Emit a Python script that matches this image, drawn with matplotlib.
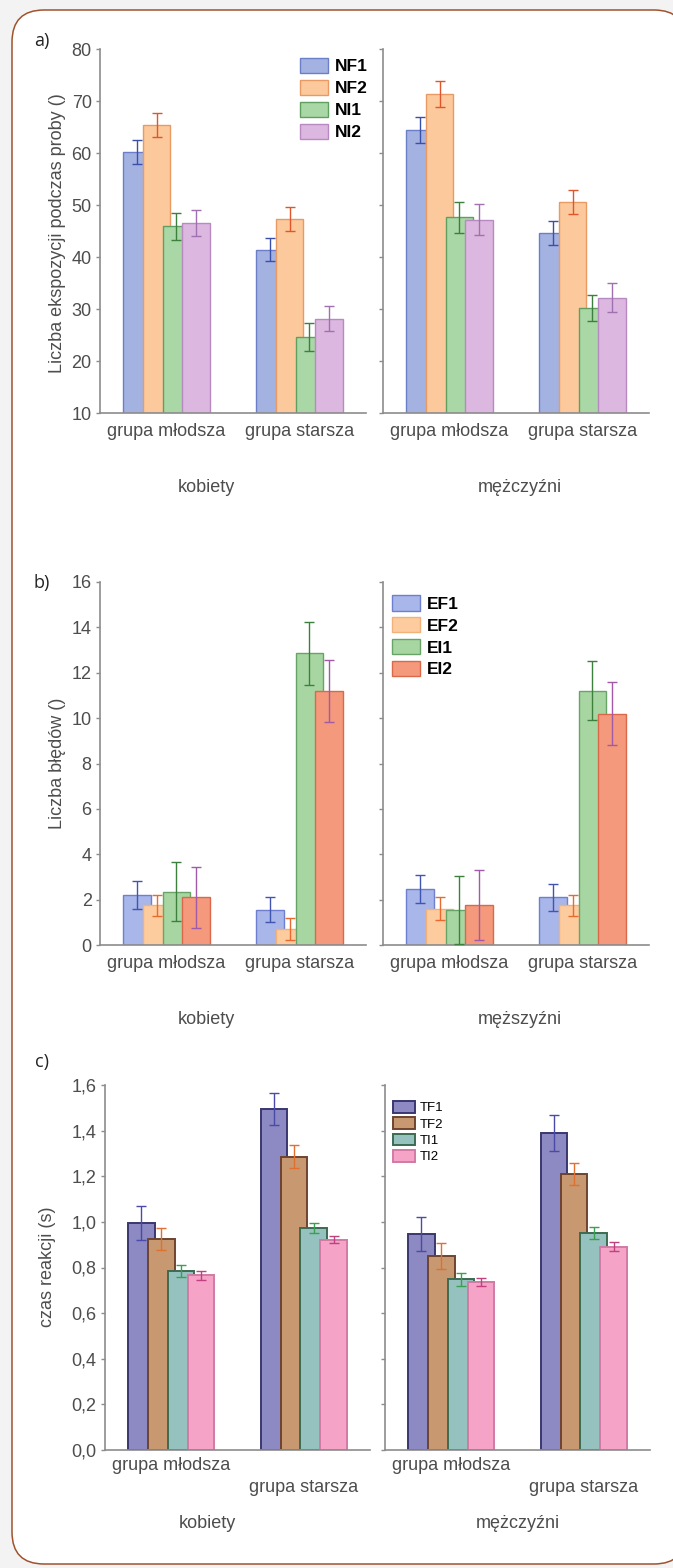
import matplotlib
matplotlib.use("Agg")
import matplotlib.pyplot as plt
from matplotlib.patches import FancyBboxPatch
from matplotlib.ticker import FuncFormatter

plt.rcParams['font.family'] = ['Liberation Sans', 'DejaVu Sans']

W, H = 673, 1568

groups = ['grupa młodsza', 'grupa starsza']

# panel a - liczba ekspozycji, values per series: [mlodsza, starsza]
a_series = ['NF1', 'NF2', 'NI1', 'NI2']
a_women_mean = [[60.2, 41.4], [65.4, 47.3], [45.9, 24.6], [46.5, 28.1]]
a_women_err = [[2.3, 2.2], [2.3, 2.3], [2.6, 2.7], [2.5, 2.4]]
a_men_mean = [[64.4, 44.6], [71.3, 50.6], [47.6, 30.2], [47.2, 32.2]]
a_men_err = [[2.5, 2.3], [2.5, 2.3], [3.0, 2.5], [3.0, 2.8]]

# panel b - liczba bledow
b_series = ['EF1', 'EF2', 'EI1', 'EI2']
b_women_mean = [[2.2, 1.55], [1.75, 0.7], [2.35, 12.85], [2.1, 11.2]]
b_women_err = [[0.6, 0.55], [0.45, 0.5], [1.3, 1.4], [1.35, 1.35]]
b_men_mean = [[2.45, 2.1], [1.6, 1.75], [1.55, 11.2], [1.75, 10.2]]
b_men_err = [[0.62, 0.6], [0.52, 0.45], [1.5, 1.3], [1.55, 1.4]]

# panel c - czas reakcji
c_series = ['TF1', 'TF2', 'TI1', 'TI2']
c_women_mean = [[0.995, 1.495], [0.925, 1.285], [0.785, 0.973], [0.765, 0.921]]
c_women_err = [[0.075, 0.07], [0.05, 0.05], [0.025, 0.022], [0.018, 0.015]]
c_men_mean = [[0.947, 1.39], [0.851, 1.21], [0.748, 0.95], [0.737, 0.892]]
c_men_err = [[0.075, 0.078], [0.057, 0.05], [0.03, 0.027], [0.017, 0.02]]

a_face = ['#a4b2e2', '#fcc99c', '#a9d7a6', '#dcb7df']
a_edge = ['#6a7fc8', '#e89a64', '#5f9f5f', '#b88ac2']
a_ecol = ['#3a50a8', '#e0552a', '#3d803d', '#a070b0']

b_face = ['#a8b6ea', '#fdcc9e', '#a8d6a2', '#f4997c']
b_edge = ['#6e7fd0', '#f2b07a', '#68a468', '#d9694a']
b_ecol = ['#4055b0', '#e86a30', '#3d803d', '#a05aa8']

c_face = ['#8d89c2', '#c89870', '#95c2bf', '#f5a3c7']
c_edge = ['#3a3670', '#6e4430', '#3c6a52', '#d07aa5']
c_ecol = ['#4a4aa8', '#e07030', '#3aa050', '#c04080']

TXT = '#4d4d4d'
AXC = '#8c8c8c'

fig = plt.figure(figsize=(W / 100, H / 100), dpi=100)
fig.patch.set_facecolor('#f3f3f3')

# rounded frame (in inches so the corners stay circular); right edge runs off the image
frame = FancyBboxPatch((12 / 100, (H - 1564) / 100), (686 - 12) / 100, (1564 - 10) / 100,
                       boxstyle='round,pad=0,rounding_size=0.32',
                       transform=fig.dpi_scale_trans, facecolor='white',
                       edgecolor='#a0522d', linewidth=1.1, zorder=-10)
fig.patches.append(frame)


def add_ax(x0, y0, x1, y1):
    return fig.add_axes([x0 / W, 1 - y1 / H, (x1 - x0) / W, (y1 - y0) / H])


def draw(ax, means, errs, faces, edges, ecols, width, step, ylim, yticks,
         labels=True, lw=1.0, fmt=None):
    x = [0, 1]
    for i in range(4):
        xs = [g + (i - 1.5) * step for g in x]
        ax.bar(xs, means[i], width, color=faces[i], edgecolor=edges[i], linewidth=lw, zorder=2)
    for i in range(4):
        xs = [g + (i - 1.5) * step for g in x]
        ax.errorbar(xs, means[i], yerr=errs[i], fmt='none', ecolor=ecols[i],
                    elinewidth=1.0, capsize=3.8, capthick=1.0, zorder=3)
    ax.set_xlim(-0.5, 1.5)
    ax.set_ylim(*ylim)
    ax.set_yticks(yticks)
    ax.set_xticks(x)
    ax.set_xticklabels(groups)
    for s in ['top', 'right']:
        ax.spines[s].set_visible(False)
    for s in ['left', 'bottom']:
        ax.spines[s].set_color(AXC)
        ax.spines[s].set_linewidth(1.2)
    ax.tick_params(axis='x', length=0, pad=7, labelsize=13, labelcolor=TXT)
    ax.tick_params(axis='y', length=3, width=1, color=AXC, labelsize=13, labelcolor=TXT, pad=3)
    if fmt is not None:
        ax.yaxis.set_major_formatter(fmt)
    if not labels:
        ax.set_yticklabels([])
    ax.patch.set_alpha(0)


def legend(ax, names, faces, edges, anchor, size, bold, hl, hh, sp, lw=1.0):
    handles = [plt.Rectangle((0, 0), 1, 1, facecolor=f, edgecolor=e, linewidth=lw)
               for f, e in zip(faces, edges)]
    ax.legend(handles, names, loc='upper left', bbox_to_anchor=anchor, frameon=False,
              borderpad=0, borderaxespad=0, handlelength=hl, handleheight=hh,
              labelspacing=sp, handletextpad=0.4,
              prop={'size': size, 'weight': 'bold' if bold else 'normal'})


def text_px(x, y, s, **kw):
    kw.setdefault('color', TXT)
    kw.setdefault('fontsize', 13)
    fig.text(x / W, 1 - y / H, s, ha='center', va='center', **kw)


# ---- a)
ax1 = add_ax(100, 49, 366, 413)
ax2 = add_ax(383, 49, 649, 413)
draw(ax1, a_women_mean, a_women_err, a_face, a_edge, a_ecol, 0.21, 0.15, (10, 80), range(10, 81, 10))
draw(ax2, a_men_mean, a_men_err, a_face, a_edge, a_ecol, 0.21, 0.15, (10, 80), range(10, 81, 10), labels=False)
legend(ax1, a_series, a_face, a_edge, ((300 - 100) / 266, 1 - (58 - 49) / 364), 12.5, True, 1.6, 0.95, 0.32)
text_px(57, 233, 'Liczba ekspozycji podczas proby ()', rotation=90)
text_px(206, 488, 'kobiety')
text_px(520, 488, 'mężczyźni')
text_px(42, 41, 'a)', family='Open Sans', color='#222222')

# ---- b)
ax3 = add_ax(100, 582, 366, 945)
ax4 = add_ax(383, 582, 649, 945)
draw(ax3, b_women_mean, b_women_err, b_face, b_edge, b_ecol, 0.21, 0.15, (0, 16), range(0, 17, 2))
draw(ax4, b_men_mean, b_men_err, b_face, b_edge, b_ecol, 0.21, 0.15, (0, 16), range(0, 17, 2), labels=False)
legend(ax4, b_series, b_face, b_edge, (9 / 266, 1 - 13 / 363), 12.5, True, 1.6, 1.0, 0.3)
text_px(57, 763, 'Liczba błędów ()', rotation=90)
text_px(206, 1020, 'kobiety')
text_px(520, 1020, 'męższyźni')
text_px(42, 583, 'b)', family='Open Sans', color='#222222')

# ---- c)
comma = FuncFormatter(lambda v, p: f'{v:.1f}'.replace('.', ','))
yt = [0, 0.2, 0.4, 0.6, 0.8, 1.0, 1.2, 1.4, 1.6]
ax5 = add_ax(105, 1085, 370, 1450)
ax6 = add_ax(385, 1085, 650, 1450)
draw(ax5, c_women_mean, c_women_err, c_face, c_edge, c_ecol, 0.2, 0.15, (0, 1.6), yt, lw=1.4, fmt=comma)
draw(ax6, c_men_mean, c_men_err, c_face, c_edge, c_ecol, 0.2, 0.15, (0, 1.6), yt, labels=False, lw=1.4)
for ax in (ax5, ax6):
    ticks = ax.xaxis.get_major_ticks()
    ticks[0].set_pad(5)
    ticks[1].set_pad(21)
legend(ax6, c_series, c_face, c_edge, (8 / 265, 1 - 16 / 365), 9.5, False, 1.65, 1.0, 0.22, lw=1.4)
text_px(48, 1267, 'czas reakcji (s)', rotation=90)
text_px(207, 1524, 'kobiety')
text_px(518, 1524, 'mężczyźni')
text_px(42, 1062, 'c)', family='Open Sans', color='#222222')

fig.savefig('out.png', dpi=100, facecolor=fig.get_facecolor())
